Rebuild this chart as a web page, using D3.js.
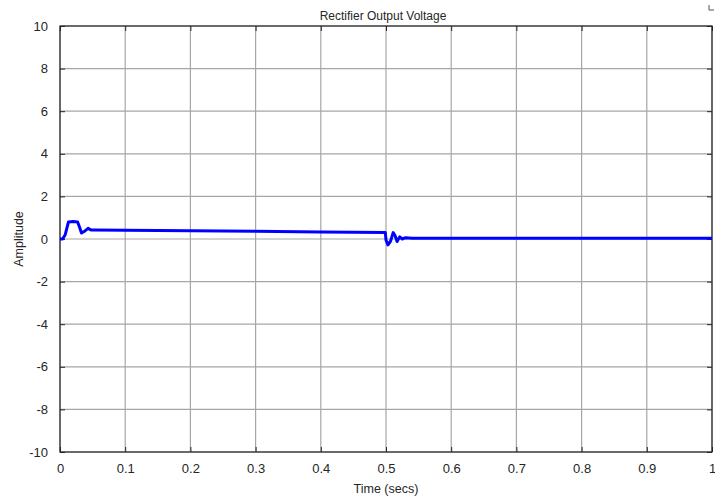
<!DOCTYPE html>
<html>
<head>
<meta charset="utf-8">
<script src="https://d3js.org/d3.v7.min.js"></script>
<style>
	body { margin: 0; background: #fff; }
	text { font-family: "Liberation Sans", Arial, sans-serif; fill: #262626; }
	.grid line { stroke: #a6a6a6; stroke-width: 1.2px; }
	.axis path, .axis line { stroke: #262626; }
</style>
</head>
<body>
<svg class="chart" width="715" height="500"></svg>
<script>
// values
var times  = [0, 0.004, 0.008, 0.013, 0.02, 0.027, 0.030, 0.033, 0.037, 0.043, 0.048, 0.052, 0.1, 0.2, 0.3, 0.4, 0.499,
              0.500, 0.503, 0.507, 0.511, 0.514, 0.517, 0.521, 0.525, 0.530, 0.540, 0.6, 0.8, 1.0];
var volts  = [0, 0, 0.2, 0.8, 0.82, 0.8, 0.55, 0.28, 0.35, 0.5, 0.42, 0.42, 0.41, 0.39, 0.36, 0.33, 0.3,
              -0.05, -0.28, -0.1, 0.3, 0.15, -0.12, 0.1, 0.0, 0.06, 0.04, 0.04, 0.04, 0.04];
var xTicks = [0, 0.1, 0.2, 0.3, 0.4, 0.5, 0.6, 0.7, 0.8, 0.9, 1];
var yTicks = [-10, -8, -6, -4, -2, 0, 2, 4, 6, 8, 10];

var svg = d3.select(".chart");
var pLeft = 60, pRight = 712, pTop = 26, pBottom = 452;

var x = d3.scaleLinear().domain([0, 1]).range([pLeft, pRight]);
var y = d3.scaleLinear().domain([-10, 10]).range([pBottom, pTop]);

// grid
var grid = svg.append("g").attr("class", "grid");
grid.selectAll(".gx").data(xTicks).enter().append("line")
	.attr("x1", function(d) { return x(d); }).attr("x2", function(d) { return x(d); })
	.attr("y1", pTop).attr("y2", pBottom);
grid.selectAll(".gy").data(yTicks).enter().append("line")
	.attr("y1", function(d) { return y(d); }).attr("y2", function(d) { return y(d); })
	.attr("x1", pLeft).attr("x2", pRight);

// axes with inward ticks
svg.append("g").attr("class", "axis")
	.attr("transform", "translate(0," + pBottom + ")")
	.call(d3.axisBottom(x).tickValues(xTicks).tickSize(-5).tickPadding(12)
		.tickFormat(function(d) { return String(d); }));
svg.append("g").attr("class", "axis")
	.attr("transform", "translate(0," + pTop + ")")
	.call(d3.axisTop(x).tickValues(xTicks).tickSize(-5).tickFormat(""));
svg.append("g").attr("class", "axis")
	.attr("transform", "translate(" + pLeft + ",0)")
	.call(d3.axisLeft(y).tickValues(yTicks).tickSize(-5).tickPadding(12)
		.tickFormat(function(d) { return String(d); }));
svg.append("g").attr("class", "axis")
	.attr("transform", "translate(" + pRight + ",0)")
	.call(d3.axisRight(y).tickValues(yTicks).tickSize(-5).tickFormat(""));

svg.selectAll(".axis .domain").remove();
svg.selectAll(".axis text").style("font-size", "13px")
	.style("font-family", "'Liberation Sans', Arial, sans-serif").attr("fill", "#262626");

// frame
svg.append("rect").attr("x", pLeft).attr("y", pTop)
	.attr("width", pRight - pLeft).attr("height", pBottom - pTop)
	.attr("fill", "none").attr("stroke", "#262626").attr("stroke-width", 1.2);

// signal
var pts = times.map(function(t, i) { return [t, volts[i]]; });
svg.append("path").datum(pts)
	.attr("fill", "none").attr("stroke", "#0000ff").attr("stroke-width", 3)
	.attr("stroke-linejoin", "round")
	.attr("d", d3.line().x(function(d) { return x(d[0]); }).y(function(d) { return y(d[1]); }));

// labels
svg.append("text").attr("x", (pLeft + pRight) / 2 - 3).attr("y", 20)
	.attr("text-anchor", "middle").style("font-size", "12px").text("Rectifier Output Voltage");
svg.append("text").attr("x", (pLeft + pRight) / 2).attr("y", 493)
	.attr("text-anchor", "middle").style("font-size", "12.5px").text("Time (secs)");
svg.append("text").attr("transform", "translate(23," + (pTop + pBottom) / 2 + ") rotate(-90)")
	.attr("text-anchor", "middle").style("font-size", "12.5px").text("Amplitude");

// small corner marker
svg.append("path").attr("d", "M709,5 V10 H714").attr("fill", "none")
	.attr("stroke", "#555").attr("stroke-width", 1);
</script>
</body>
</html>
